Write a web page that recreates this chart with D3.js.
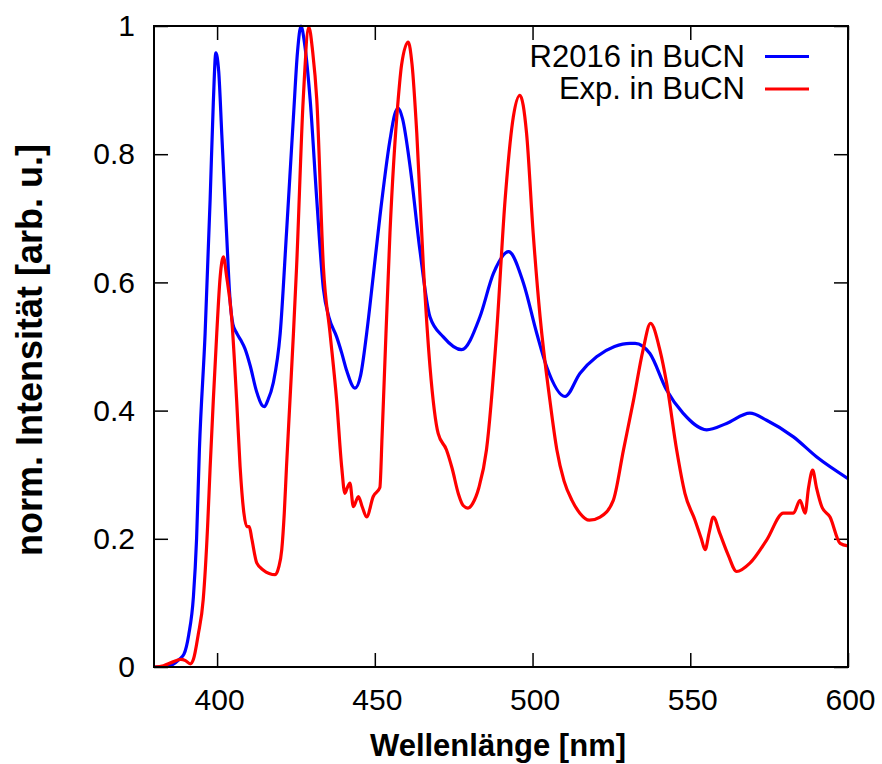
<!DOCTYPE html>
<html>
<head>
<meta charset="utf-8">
<script src="https://cdn.jsdelivr.net/npm/d3@7"></script>
<style>
  html, body { margin: 0; padding: 0; background: #ffffff; }
  svg { display: block; font-family: "Liberation Sans", Arial, Helvetica, sans-serif; }
</style>
</head>
<body>
<svg id="chart" width="882" height="764"></svg>
<script>
// ---- Data ----
const xTicks = [400, 450, 500, 550, 600];
const yTicks = [0, 0.2, 0.4, 0.6, 0.8, 1];
const yTickLabels = ["0", "0.2", "0.4", "0.6", "0.8", "1"];
const seriesNames = ["R2016 in BuCN", "Exp. in BuCN"];
const seriesColors = ["#0000ff", "#ff0000"];

// R2016 in BuCN (blue)
const blueX = [380, 384, 386, 388, 389.5, 391, 392.5, 393.5, 394.4, 396.2, 397.8, 398.8, 399.6, 400.5, 401.5, 403, 404.1, 405, 406.2, 407.5, 408.8, 410.5, 412.5, 414.3, 415, 416, 417.8, 420, 422, 424.2, 425.5, 426.6, 427.8, 429.5, 431.6, 433.7, 435.5, 437.9, 439.5, 441.1, 443.7, 445.5, 447.4, 449.5, 451.6, 454.8, 456.3, 457.4, 458.8, 461.2, 464.3, 467.5, 471.7, 477.5, 483.3, 487.6, 492.4, 497.1, 501.3, 504.5, 510.3, 515, 520.3, 526, 530.9, 532.5, 537.2, 542.5, 547.7, 555.2, 561.5, 568.9, 574.2, 582.7, 590, 600];
const blueY = [0, 0, 0.004, 0.012, 0.02, 0.05, 0.11, 0.2, 0.34, 0.52, 0.73, 0.88, 0.958, 0.93, 0.83, 0.677, 0.573, 0.535, 0.521, 0.51, 0.497, 0.47, 0.43, 0.408, 0.406, 0.415, 0.443, 0.52, 0.677, 0.858, 0.96, 1.0, 0.97, 0.885, 0.729, 0.59, 0.545, 0.515, 0.49, 0.462, 0.435, 0.455, 0.52, 0.61, 0.702, 0.822, 0.862, 0.872, 0.855, 0.78, 0.65, 0.546, 0.515, 0.495, 0.546, 0.614, 0.648, 0.599, 0.521, 0.468, 0.422, 0.458, 0.484, 0.5, 0.505, 0.505, 0.489, 0.432, 0.396, 0.37, 0.38, 0.396, 0.385, 0.359, 0.328, 0.294];

// Exp. in BuCN (red)
const redX = [380, 383, 386, 388.5, 390, 391.5, 392.5, 394, 395.6, 397, 397.8, 398.8, 399.9, 401, 402, 403, 404.6, 406.2, 407.3, 408.5, 409.4, 410.2, 411, 412.6, 414.7, 416.5, 418.4, 419.5, 420.5, 421.3, 422, 423.1, 424.2, 425.2, 427.3, 429.1, 430.3, 431.6, 433.7, 435.8, 437.9, 439.5, 440.5, 441.3, 442.1, 443.2, 444.8, 446, 447.4, 449.5, 451.6, 452.3, 453, 454.8, 457.4, 458.5, 460.6, 461.8, 463.3, 465.4, 467.5, 470.1, 472.7, 474.5, 476.5, 478, 479.5, 481, 483, 485.4, 488.6, 491.3, 493.9, 496, 498.1, 500.2, 502.4, 505.5, 507.7, 510, 512.5, 515, 518, 521.4, 525.6, 528.8, 532, 535, 537.4, 540.4, 542.5, 545.7, 548.3, 551.5, 553.5, 554.7, 556, 557.3, 559.4, 562, 564.7, 568.9, 574.2, 579.5, 582.7, 584.8, 586.4, 587.5, 588.8, 590, 591.7, 594.3, 597.5, 600];
const redY = [0, 0.002, 0.008, 0.012, 0.01, 0.005, 0.012, 0.05, 0.105, 0.22, 0.312, 0.416, 0.521, 0.61, 0.64, 0.61, 0.546, 0.416, 0.312, 0.24, 0.219, 0.219, 0.2, 0.162, 0.151, 0.146, 0.144, 0.155, 0.183, 0.24, 0.312, 0.416, 0.52, 0.624, 0.885, 0.998, 0.96, 0.885, 0.624, 0.521, 0.416, 0.312, 0.271, 0.28, 0.287, 0.25, 0.266, 0.25, 0.234, 0.266, 0.28, 0.36, 0.45, 0.677, 0.885, 0.94, 0.975, 0.94, 0.833, 0.624, 0.468, 0.364, 0.339, 0.31, 0.27, 0.252, 0.248, 0.255, 0.28, 0.339, 0.521, 0.729, 0.858, 0.892, 0.833, 0.677, 0.546, 0.416, 0.339, 0.29, 0.26, 0.24, 0.229, 0.234, 0.26, 0.338, 0.416, 0.494, 0.536, 0.494, 0.443, 0.338, 0.271, 0.229, 0.2, 0.183, 0.21, 0.234, 0.208, 0.175, 0.149, 0.162, 0.198, 0.24, 0.24, 0.26, 0.24, 0.28, 0.307, 0.28, 0.25, 0.234, 0.193, 0.189];

// ---- Layout ----
const svg = d3.select("#chart");
const mLeft = 154, mRight = 848, mTop = 26, mBottom = 667;
const x = d3.scaleLinear().domain([380, 600]).range([mLeft, mRight]);
const y = d3.scaleLinear().domain([0, 1]).range([mBottom, mTop]);
const tickLen = 14;

svg.append("defs").append("clipPath").attr("id", "plotclip")
  .append("rect").attr("x", mLeft).attr("y", mTop - 2).attr("width", mRight - mLeft).attr("height", mBottom - mTop + 2);

// Bottom axis (ticks inward) and top mirror
const xAxisB = d3.axisBottom(x).tickValues(xTicks).tickSize(-tickLen).tickFormat(d3.format("d")).tickPadding(22);
const gxb = svg.append("g").attr("transform", `translate(0,${mBottom})`).call(xAxisB);
gxb.select(".domain").remove();
gxb.selectAll(".tick line").attr("stroke", "#000").attr("stroke-width", 1.5);
gxb.selectAll(".tick text").attr("font-size", 30).attr("fill", "#000").attr("dx", 2)
  .attr("font-family", "Liberation Sans, Arial, sans-serif");

const xAxisT = d3.axisTop(x).tickValues(xTicks).tickSize(-tickLen).tickFormat("");
const gxt = svg.append("g").attr("transform", `translate(0,${mTop})`).call(xAxisT);
gxt.select(".domain").remove();
gxt.selectAll(".tick line").attr("stroke", "#000").attr("stroke-width", 1.5);

// Left axis and right mirror
const yAxisL = d3.axisLeft(y).tickValues(yTicks).tickSize(-tickLen)
  .tickFormat((d, i) => yTickLabels[i]).tickPadding(19);
const gyl = svg.append("g").attr("transform", `translate(${mLeft},0)`).call(yAxisL);
gyl.select(".domain").remove();
gyl.selectAll(".tick line").attr("stroke", "#000").attr("stroke-width", 1.5);
gyl.selectAll(".tick text").attr("font-size", 30).attr("fill", "#000")
  .attr("font-family", "Liberation Sans, Arial, sans-serif");

const yAxisR = d3.axisRight(y).tickValues(yTicks).tickSize(-tickLen).tickFormat("");
const gyr = svg.append("g").attr("transform", `translate(${mRight},0)`).call(yAxisR);
gyr.select(".domain").remove();
gyr.selectAll(".tick line").attr("stroke", "#000").attr("stroke-width", 1.5);

// Lines
const line = d3.line().x(d => x(d[0])).y(d => y(d[1])).curve(d3.curveMonotoneX);
const blueData = blueX.map((v, i) => [v, blueY[i]]);
const redData = redX.map((v, i) => [v, redY[i]]);

const plot = svg.append("g").attr("clip-path", "url(#plotclip)");
plot.append("path").datum(blueData).attr("d", line)
  .attr("fill", "none").attr("stroke", seriesColors[0]).attr("stroke-width", 3.2).attr("stroke-linejoin", "round");
plot.append("path").datum(redData).attr("d", line)
  .attr("fill", "none").attr("stroke", seriesColors[1]).attr("stroke-width", 3.2).attr("stroke-linejoin", "round");

// Frame
svg.append("rect").attr("x", mLeft).attr("y", mTop).attr("width", mRight - mLeft).attr("height", mBottom - mTop)
  .attr("fill", "none").attr("stroke", "#000").attr("stroke-width", 2);

// Legend
const legend = svg.append("g");
const legY = [56.5, 89];
seriesNames.forEach((name, i) => {
  legend.append("text").attr("x", 745).attr("y", legY[i] + 10).attr("text-anchor", "end")
    .attr("font-size", 31).attr("fill", "#000").text(name);
  legend.append("line").attr("x1", 765).attr("x2", 809).attr("y1", legY[i]).attr("y2", legY[i])
    .attr("stroke", seriesColors[i]).attr("stroke-width", 3.2);
});

// Axis titles
svg.append("text").attr("x", 498).attr("y", 756).attr("text-anchor", "middle")
  .attr("font-size", 31).attr("font-weight", "bold").attr("fill", "#000").text("Wellenlänge [nm]");
svg.append("text").attr("transform", "translate(42,350) rotate(-90)").attr("text-anchor", "middle")
  .attr("font-size", 36).attr("font-weight", "bold").attr("fill", "#000").text("norm. Intensität [arb. u.]");
</script>
</body>
</html>
